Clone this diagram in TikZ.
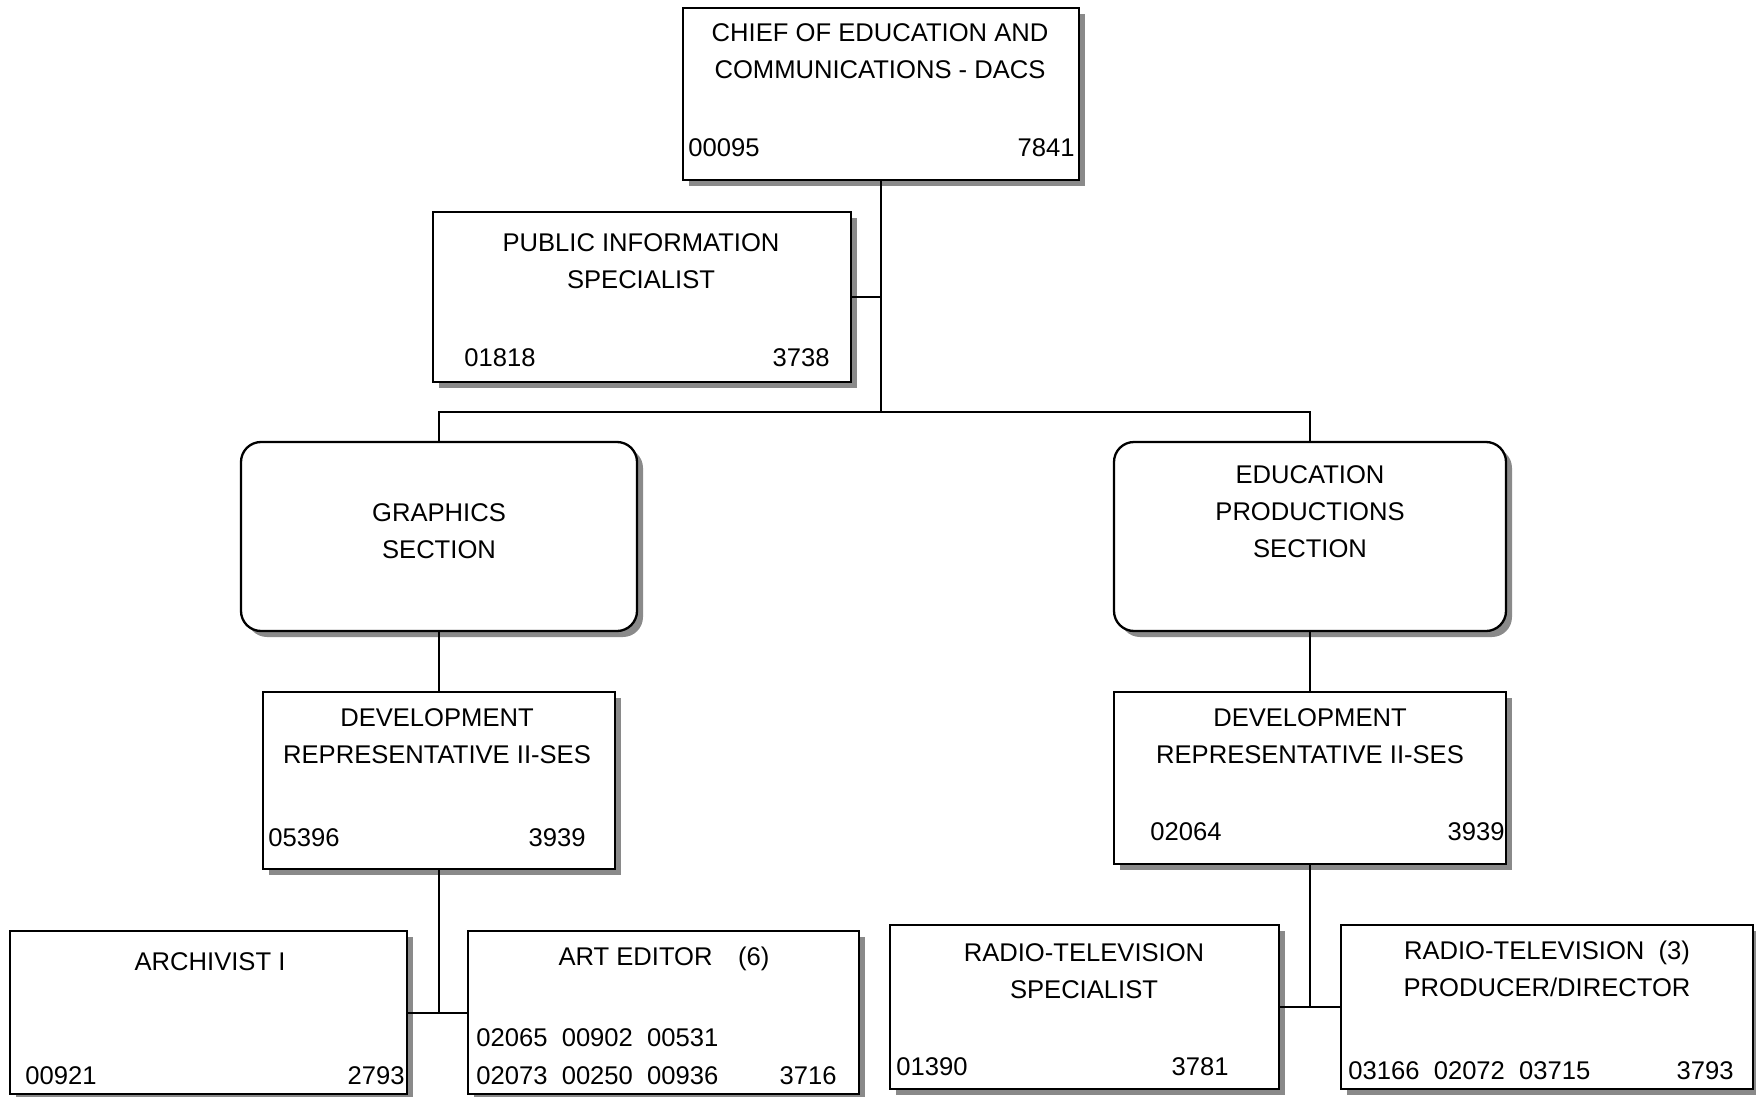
\documentclass[tikz,border=0pt]{standalone}
\usepackage{fontspec}
\setmainfont{Liberation Sans}
\usetikzlibrary{shadows}

\begin{document}
\begin{tikzpicture}[x=0.5pt,y=-0.5pt,
  box/.style={draw,line width=1.15pt,fill=white,inner sep=0pt,
    drop shadow={shadow xshift=3pt,shadow yshift=-3pt,fill=black!46,opacity=1}},
  section/.style={box,rounded corners=10pt},
  title/.style={align=center,inner sep=0pt},
  code/.style={inner sep=0pt},
  link/.style={line width=1pt},
  every node/.append style={font=\fontsize{12.8}{18.5}\selectfont}]
  \useasboundingbox (0,0) rectangle (1756,1097);

  % Chief
  \node[box,minimum width=198pt,minimum height=86pt] (chief) at (881,94) {};
  \node[title] (chief-title) at (880,51) {CHIEF OF EDUCATION AND\\COMMUNICATIONS - DACS};
  \node[code,anchor=base west] (chief-id) at (688,156) {00095};
  \node[code,anchor=base east] (chief-class) at (1075,156) {7841};

  % Staff position
  \node[box,minimum width=209pt,minimum height=85pt] (pubinfo) at (642,297) {};
  \node[title] (pubinfo-title) at (641,261) {PUBLIC INFORMATION\\SPECIALIST};
  \node[code,anchor=base west] (pubinfo-id) at (464,366) {01818};
  \node[code,anchor=base east] (pubinfo-class) at (830,366) {3738};

  % Sections
  \node[section,minimum width=198pt,minimum height=94.5pt] (graphics) at (439,536.5) {};
  \node[title] (graphics-title) at (439,531) {GRAPHICS\\SECTION};
  \node[section,minimum width=196pt,minimum height=94.5pt] (eduprod) at (1310,536.5) {};
  \node[title] (eduprod-title) at (1310,512) {EDUCATION\\PRODUCTIONS\\SECTION};

  % Section heads
  \node[box,minimum width=176pt,minimum height=88.5pt] (devL) at (439,780.5) {};
  \node[title] (devL-title) at (437,736) {DEVELOPMENT\\REPRESENTATIVE II-SES};
  \node[code,anchor=base west] (devL-id) at (268,846) {05396};
  \node[code,anchor=base east] (devL-class) at (586,846) {3939};

  \node[box,minimum width=196pt,minimum height=86pt] (devR) at (1310,778) {};
  \node[title] (devR-title) at (1310,736) {DEVELOPMENT\\REPRESENTATIVE II-SES};
  \node[code,anchor=base west] (devR-id) at (1150,840) {02064};
  \node[code,anchor=base east] (devR-class) at (1505,840) {3939};

  % Graphics staff
  \node[box,minimum width=198.5pt,minimum height=81.5pt] (archivist) at (208.5,1012.5) {};
  \node[code,anchor=base] (archivist-title) at (210,970) {ARCHIVIST I};
  \node[code,anchor=base west] (archivist-id) at (25,1084) {00921};
  \node[code,anchor=base east] (archivist-class) at (405,1084) {2793};

  \node[box,minimum width=195.5pt,minimum height=81.5pt] (arteditor) at (663.5,1012.5) {};
  \node[code,anchor=base] (arteditor-title) at (664,965) {ART EDITOR\quad(6)};
  \node[code,anchor=base west] (arteditor-ida) at (476,1046) {02065\ \ 00902\ \ 00531};
  \node[code,anchor=base west] (arteditor-idb) at (476,1084) {02073\ \ 00250\ \ 00936};
  \node[code,anchor=base east] (arteditor-class) at (837,1084) {3716};

  % Production staff
  \node[box,minimum width=194.5pt,minimum height=82pt] (rtvspec) at (1084.5,1007) {};
  \node[title] (rtvspec-title) at (1084,971) {RADIO-TELEVISION\\SPECIALIST};
  \node[code,anchor=base west] (rtvspec-id) at (896,1075) {01390};
  \node[code,anchor=base east] (rtvspec-class) at (1229,1075) {3781};

  \node[box,minimum width=206pt,minimum height=82pt] (producer) at (1547,1007) {};
  \node[title] (producer-title) at (1547,969) {RADIO-TELEVISION\ \ (3)\\PRODUCER/DIRECTOR};
  \node[code,anchor=base west] (producer-id) at (1348,1079) {03166\ \ 02072\ \ 03715};
  \node[code,anchor=base east] (producer-class) at (1734,1079) {3793};

  % Lines
  \coordinate (bus) at (881,412);
  \draw[link] (chief.south) -- (bus);
  \draw[link] (pubinfo.east) -- (pubinfo.east -| chief.south);
  \draw[link] (graphics.north) |- (bus) -| (eduprod.north);
  \draw[link] (graphics.south) -- (devL.north);
  \draw[link] (eduprod.south) -- (devR.north);
  \draw[link] (devL.south) -- (devL.south |- archivist.east);
  \draw[link] (archivist.east) -- (arteditor.west);
  \draw[link] (devR.south) -- (devR.south |- rtvspec.east);
  \draw[link] (rtvspec.east) -- (producer.west);
\end{tikzpicture}
\end{document}
